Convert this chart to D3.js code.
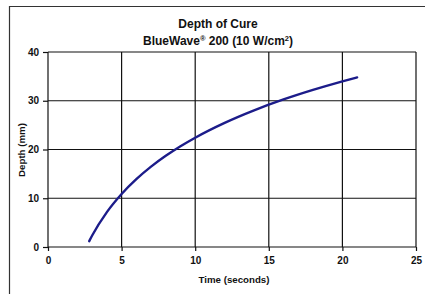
<!DOCTYPE html>
<html>
<head>
<meta charset="utf-8">
<script src="https://cdn.jsdelivr.net/npm/d3@7"></script>
<style>
  body { margin: 0; background: #fff; }
  text { font-family: "Liberation Sans", Arial, sans-serif; font-weight: bold; fill: #111; }
</style>
</head>
<body>
<svg width="425" height="294"></svg>
<script>
// time (s) vs depth of cure (mm)
const times = [2.8, 3, 4, 5, 6, 7, 8, 9, 10, 12, 14, 16, 18, 20, 21];
const depths = [1.2, 2.35, 7.15, 10.87, 13.91, 16.48, 18.7, 20.67, 22.42, 25.46, 28.03, 30.26, 32.22, 33.98, 34.8];
const xTicks = [0, 5, 10, 15, 20, 25];
const yTicks = [0, 10, 20, 30, 40];

const svg = d3.select('svg');
const margin = {top: 52, right: 9, bottom: 47, left: 48};
const width = 425 - margin.left - margin.right;
const height = 294 - margin.top - margin.bottom;

// outer chart frame
svg.append('path')
  .attr('d', 'M9.5,300V6.5H430')
  .attr('fill', 'none')
  .attr('stroke', '#333')
  .attr('stroke-width', 1.2);

const title = svg.append('text')
  .attr('x', 218)
  .attr('text-anchor', 'middle')
  .style('font-size', '12px');
title.append('tspan').attr('x', 218).attr('y', 28).text('Depth of Cure');
const line2 = title.append('tspan').attr('x', 218).attr('y', 45);
line2.append('tspan').text('BlueWave');
line2.append('tspan').attr('dy', -4).style('font-size', '7.5px').text('®');
line2.append('tspan').attr('dy', 4).text(' 200 (10 W/cm');
line2.append('tspan').attr('dy', -4).style('font-size', '7.5px').text('2');
line2.append('tspan').attr('dy', 4).text(')');

const g = svg.append('g')
  .attr('transform', `translate(${margin.left},${margin.top})`);

const x = d3.scaleLinear().domain([0, 25]).range([0, width]);
const y = d3.scaleLinear().domain([0, 40]).range([height, 0]);

// grid
g.append('g')
  .selectAll('line')
  .data(xTicks)
  .join('line')
    .attr('x1', d => x(d)).attr('x2', d => x(d))
    .attr('y1', 0).attr('y2', height)
    .attr('stroke', '#111').attr('stroke-width', 1.2);
g.append('g')
  .selectAll('line')
  .data(yTicks)
  .join('line')
    .attr('x1', 0).attr('x2', width)
    .attr('y1', d => y(d)).attr('y2', d => y(d))
    .attr('stroke', '#111').attr('stroke-width', 1.2);

const xAxis = g.append('g')
  .attr('transform', `translate(0,${height})`)
  .call(d3.axisBottom(x).tickValues(xTicks).tickSize(4).tickPadding(6));
const yAxis = g.append('g')
  .call(d3.axisLeft(y).tickValues(yTicks).tickSize(5).tickPadding(4));

[xAxis, yAxis].forEach(a => {
  a.select('.domain').remove();
  a.selectAll('line').attr('stroke', '#111').attr('stroke-width', 1.2);
  a.selectAll('text')
    .style('font-size', '10px')
    .style('font-family', '"Liberation Sans", Arial, sans-serif')
    .style('font-weight', 'bold')
    .attr('fill', '#222');
});

g.append('path')
  .datum(d3.zip(times, depths))
  .attr('fill', 'none')
  .attr('stroke', '#1c1c8a')
  .attr('stroke-width', 2.4)
  .attr('stroke-linecap', 'round')
  .attr('d', d3.line().x(d => x(d[0])).y(d => y(d[1])).curve(d3.curveMonotoneX));

svg.append('text')
  .attr('x', 234)
  .attr('y', 283)
  .attr('text-anchor', 'middle')
  .style('font-size', '9.7px')
  .text('Time (seconds)');

svg.append('text')
  .attr('transform', 'translate(24.5,150) rotate(-90)')
  .attr('text-anchor', 'middle')
  .style('font-size', '9.7px')
  .text('Depth (mm)');
</script>
</body>
</html>
